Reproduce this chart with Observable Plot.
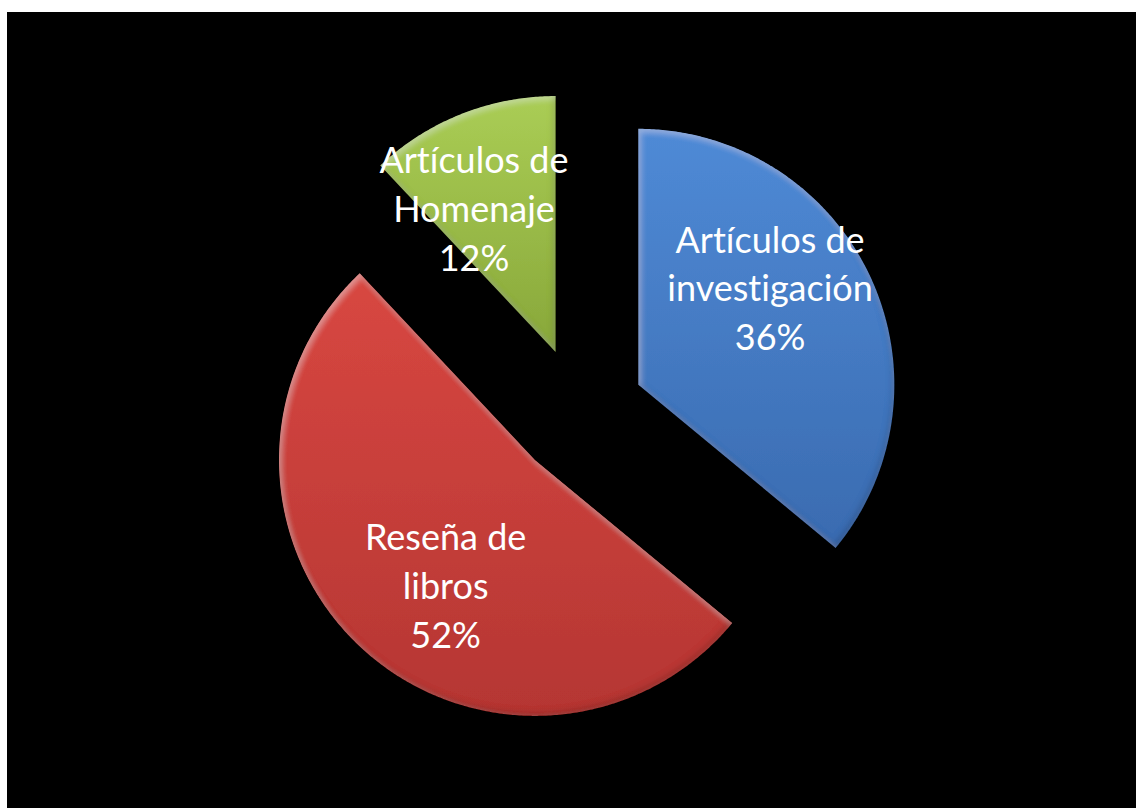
<!DOCTYPE html>
<html><head><meta charset="utf-8">
<script src="https://cdn.jsdelivr.net/npm/d3@7"></script>
<script src="https://cdn.jsdelivr.net/npm/@observablehq/plot@0.6"></script>
<style>
html,body{margin:0;padding:0;background:#fff;width:1136px;height:808px;overflow:hidden;}
#chart{position:absolute;left:7px;top:12px;}
#chart text{font-variant-ligatures:none;font-feature-settings:"liga" 0;}
</style></head><body><div id="chart"></div>
<script>
// Data (clockwise from 12 o'clock, as in the original)
const categories = ["Artículos de investigación", "Reseña de libros", "Artículos de Homenaje"];
const labelLines = ["Artículos de\ninvestigación", "Reseña de\nlibros", "Artículos de\nHomenaje"];
const values = [36, 52, 12];
const percentLabels = ["36%", "52%", "12%"];
const colorsTop = ["#4f8ad6", "#d84741", "#aacd55"];
const colorsBottom = ["#3a6bb0", "#b53633", "#88a73a"];

// Layout
const W = 1129, H = 796;
const cx = 572, cy = 400, R = 256;
const explode = 0.254;      // fraction of radius
const labelR = 0.875;       // fraction of radius
const labelRot = -6.5 * Math.PI / 180;

const total = d3.sum(values);
let acc = 0;
const slices = values.map((v, i) => {
  const a0 = acc / total * 2 * Math.PI;
  acc += v;
  const a1 = acc / total * 2 * Math.PI;
  const mid = (a0 + a1) / 2;
  const ox = explode * Math.sin(mid), oy = explode * Math.cos(mid);
  const n = Math.max(8, Math.ceil((a1 - a0) / (Math.PI / 360)));
  const pts = [{x: ox, y: oy}];
  for (let k = 0; k <= n; k++) {
    const a = a0 + (a1 - a0) * k / n;
    pts.push({x: ox + Math.sin(a), y: oy + Math.cos(a)});
  }
  pts.push({x: ox, y: oy});
  const la = mid + labelRot;
  return {i, name: categories[i], pts,
    lx: labelR * Math.sin(la), ly: labelR * Math.cos(la),
    text: labelLines[i] + "\n" + percentLabels[i]};
});

const chart = Plot.plot({
  width: W, height: H,
  margin: 0,
  style: {background: "#000", overflow: "visible"},
  x: {domain: [-1, 1], range: [cx - R, cx + R], axis: null},
  y: {domain: [-1, 1], range: [cy + R, cy - R], axis: null},
  marks: [
    ...slices.map(s => Plot.line(s.pts, {x: "x", y: "y", fill: `url(#grad${s.i})`, stroke: "none", curve: "linear", className: "slice"})),
    Plot.text(slices, {x: "lx", y: "ly", text: "text", fill: "#fff", fontSize: 36, lineHeight: 1.36, dy: -9,
      fontFamily: "Lato, 'Open Sans', sans-serif", textAnchor: "middle"})
  ]
});

const svg = d3.select(chart);
const defs = svg.insert("defs", ":first-child");
slices.forEach(s => {
  const g = defs.append("linearGradient").attr("id", "grad" + s.i)
    .attr("x1", 0).attr("y1", 0).attr("x2", 0).attr("y2", 1);
  g.append("stop").attr("offset", "0%").attr("stop-color", colorsTop[s.i]);
  g.append("stop").attr("offset", "100%").attr("stop-color", colorsBottom[s.i]);
});
defs.append("filter").attr("id", "bevel")
  .attr("x", "-5%").attr("y", "-5%").attr("width", "110%").attr("height", "110%")
  .html(`
    <feGaussianBlur in="SourceAlpha" stdDeviation="3" result="b"/>
    <feOffset in="b" dx="2" dy="3" result="bo1"/>
    <feComposite in="SourceAlpha" in2="bo1" operator="arithmetic" k2="1" k3="-1" result="rimL"/>
    <feFlood flood-color="#ffffff" flood-opacity="0.28"/>
    <feComposite in2="rimL" operator="in" result="light"/>
    <feOffset in="b" dx="-2" dy="-3" result="bo2"/>
    <feComposite in="SourceAlpha" in2="bo2" operator="arithmetic" k2="1" k3="-1" result="rimD"/>
    <feFlood flood-color="#000000" flood-opacity="0.35"/>
    <feComposite in2="rimD" operator="in" result="dark"/>
    <feMerge><feMergeNode in="SourceGraphic"/><feMergeNode in="light"/><feMergeNode in="dark"/></feMerge>
  `);
svg.selectAll(".slice path").attr("filter", "url(#bevel)");

document.getElementById("chart").appendChild(chart);
</script></body></html>
